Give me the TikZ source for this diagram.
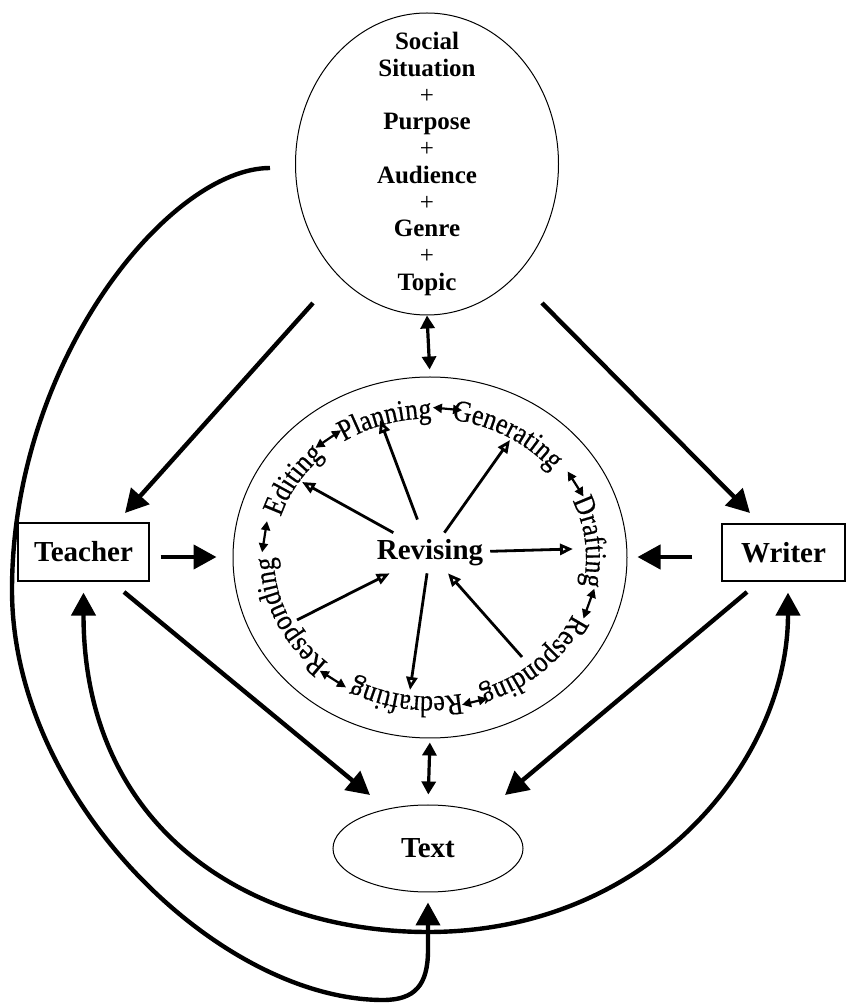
\documentclass[tikz,border=0pt]{standalone}
\usepackage{fontspec}
\setmainfont{Liberation Serif}
\usepackage{tikz}
\usetikzlibrary{arrows.meta, shapes.geometric, decorations.text, calc}
\newfontfamily\ringfamily[FakeStretch=0.86, FakeBold=0.5]{Liberation Serif}
\newcommand{\ringfont}{\ringfamily\fontsize{15}{17}\selectfont}
\tikzset{%
	frame box/.style={
		draw,
		line width=0.6pt,
		inner sep=0pt,
		font=\fontsize{14.5}{17}\selectfont\bfseries
	},
	oval box/.style={
		frame box,
		ellipse,
		line width=0.5pt
	},
	big arrow/.style={
		>={Triangle[length=11.5pt, width=12pt]},
		->,
		line width=2.2pt
	},
	both arrow/.style={
		>={Triangle[length=6.5pt, width=7pt]},
		<->,
		line width=1.6pt
	},
	spoke/.style={
		-{Triangle[open, length=6.5pt, width=5.5pt]},
		line width=1.4pt
	},
	ring arrow/.style={
		{Triangle[length=4.5pt, width=4.5pt]}-{Triangle[length=4.5pt, width=4.5pt]},
		line width=1.1pt
	},
	ring word/.style={
		decorate,
		decoration={text along path, text align=center, text={|\ringfont|#1}}
	},
}
\begin{document}
\begin{tikzpicture}[x=0.5pt, y=0.5pt]
	\useasboundingbox (0,0) rectangle (848,1003);

	% Draw the context ellipse
	\node[oval box, minimum width=131.5pt, minimum height=151pt] (ctx) at (427,839) {};
	\node[font=\fontsize{12.5}{13.35}\selectfont\bfseries, align=center] (ctxtext) at (427,839)
		{Social\\Situation\\{\mdseries +}\\Purpose\\{\mdseries +}\\Audience\\{\mdseries +}\\Genre\\{\mdseries +}\\Topic};

	% Draw the process ring
	\node[oval box, minimum width=197pt, minimum height=180.5pt] (ring) at (430,445.5) {};
	\node[font=\fontsize{14.5}{17}\selectfont\bfseries] (rev) at (430,450) {Revising};

	% Draw the teacher, writer and text
	\node[frame box, minimum width=65.5pt, minimum height=29pt] (teacher) at (83.5,451) {Teacher};
	\node[frame box, minimum width=61.5pt, minimum height=28.5pt] (writer) at (783.5,450.5) {Writer};
	\node[oval box, minimum width=95pt, minimum height=43.5pt] (txt) at (428,154.5) {Text};

	% Stage names round the ring
	\path[ring word=Planning] (ring) ++(147:156 and 139) arc[start angle=147, end angle=67, x radius=156, y radius=139];
	\path[ring word=Generating] (ring) ++(99.5:156 and 139) arc[start angle=99.5, end angle=19.5, x radius=156, y radius=139];
	\path[ring word=Drafting] (ring) ++(46:156 and 139) arc[start angle=46, end angle=-34, x radius=156, y radius=139];
	\path[ring word=Responding] (ring) ++(-7:156 and 139) arc[start angle=-7, end angle=-87, x radius=156, y radius=139];
	\path[ring word=Redrafting] (ring) ++(-59:156 and 139) arc[start angle=-59, end angle=-139, x radius=156, y radius=139];
	\path[ring word=Responding] (ring) ++(-116:156 and 139) arc[start angle=-116, end angle=-196, x radius=156, y radius=139];
	\path[ring word=Editing] (ring) ++(189:156 and 139) arc[start angle=189, end angle=109, x radius=156, y radius=139];

	% Small arrows between the stages
	\foreach \a/\b in {133/122, 89/79, 35/24, -12/-24, -70/-79, -120/-131, 178/166}
		\draw[ring arrow] ($(ring)+(\a:168 and 150)$) -- ($(ring)+(\b:168 and 150)$);

	% Spokes of revising
	\coordinate (ed) at (302,521);
	\coordinate (pl) at (380,583);
	\coordinate (ge) at (510,563);
	\coordinate (dr) at (573,454);
	\coordinate (rr) at (522,346);
	\coordinate (rd) at (410,313);
	\coordinate (rl) at (297,383);
	\draw[spoke] (rev) -- (ed);
	\draw[spoke, shorten <=7pt] (rev) -- (pl);
	\draw[spoke] (rev) -- (ge);
	\draw[spoke] (rev) -- (dr);
	\draw[spoke] (rev) -- (rd);
	\draw[spoke] (rr) -- (rev);
	\draw[spoke] (rl) -- (rev);

	% Free ends of the outer arrows
	\coordinate (ctx-l) at (313,700);
	\coordinate (ctx-r) at (542,700);
	\coordinate (ctx-w) at (270,835);
	\coordinate (tch-top) at (125,490);
	\coordinate (wrt-top) at (750,490);
	\coordinate (tch-bot) at (124,411);
	\coordinate (wrt-bot) at (747,411);
	\coordinate (txt-l) at (370,208);
	\coordinate (txt-r) at (505,208);

	% Context to teacher, writer and ring
	\draw[big arrow] (ctx-l) -- (tch-top);
	\draw[big arrow] (ctx-r) -- (wrt-top);
	\draw[both arrow, shorten >=3.5pt] (ctx.south) -- (ring.north);

	% Teacher and writer to ring
	\draw[big arrow, shorten <=5.5pt, shorten >=8pt] ([yshift=-2.5pt]teacher.east) -- ([yshift=-2.5pt]teacher.east -| ring.west);
	\draw[big arrow, shorten <=14.5pt, shorten >=5pt] ([yshift=-2.25pt]writer.west) -- ([yshift=-2.25pt]writer.west -| ring.east);

	% Everything to text
	\draw[big arrow] (tch-bot) -- (txt-l);
	\draw[big arrow] (wrt-bot) -- (txt-r);
	\draw[both arrow, shorten <=2pt, shorten >=5pt] (ring.south) -- (txt.north);

	% Long way round from context to text
	\draw[big arrow, shorten >=5pt] (ctx-w) .. controls (170,835) and (12,643) .. (12,413)
		.. controls (12,203) and (220,3) .. (383,3)
		.. controls (415,3) and (428,18) .. (428,53) -- (txt.south);

	% Teacher and writer linked under the text
	\draw[big arrow, <->, shorten <=5.5pt, shorten >=5.5pt] (teacher.south)
		.. controls (83.5,173) and (250,71) .. (428,71)
		.. controls (650,71) and (788,243) .. ([xshift=2.25pt]writer.south);
\end{tikzpicture}
\end{document}
